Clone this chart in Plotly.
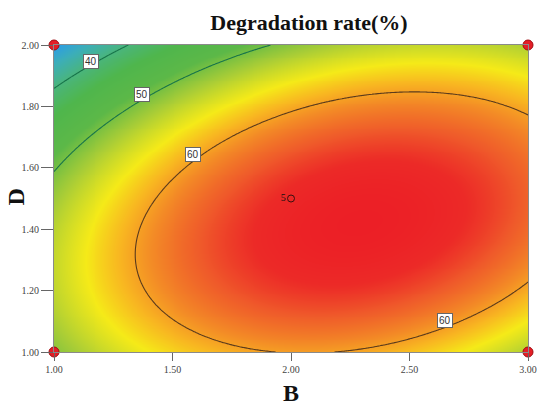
import numpy as np
import plotly.graph_objects as go

# Quadratic response-surface model in coded units:
#   u = B - 2 (B in 1..3),  v = (D - 1.5) / 0.5 (D in 1..2)
#   Y = b0 + b1*u + b2*v + b12*u*v + b11*u^2 + b22*v^2
coef_names = ["b0", "b1", "b2", "b12", "b11", "b22"]
coef_values = [65.92, 5.58, -4.58, 4.58, -8.42, -10.4]

b_range = [1.0, 3.0]
d_range = [1.0, 2.0]

contour_levels_green = [40, 50]
contour_levels_brown = [60]

# Factorial design points (corners) and centre point with replicate count
design_b = [1.0, 1.0, 3.0, 3.0]
design_d = [1.0, 2.0, 1.0, 2.0]
center_b = [2.0]
center_d = [1.5]
center_count = ["5"]

x_ticks = [1.0, 1.5, 2.0, 2.5, 3.0]
y_ticks = [1.0, 1.2, 1.4, 1.6, 1.8, 2.0]

# Contour label placements (B, D, text)
label_b = [1.154, 1.373, 1.587, 2.648]
label_d = [1.945, 1.840, 1.642, 1.104]
label_text = ["40", "50", "60", "60"]

# value -> colour anchors for the response colouring
color_values = [32.4, 36.0, 40.0, 44.0, 48.5, 52.5, 56.5, 59.0, 61.0, 63.5, 65.5, 67.1]
color_list = ["#2a9be8", "#3caeb8", "#4ab57a", "#4fb64c", "#5cb848", "#a9cd36",
              "#f5ea18", "#f8b521", "#f38a26", "#ef5a2a", "#ec2a27", "#ec1f26"]


def model(b, d):
    c = dict(zip(coef_names, coef_values))
    u = b - 2.0
    v = (d - 1.5) / 0.5
    return (c["b0"] + c["b1"] * u + c["b2"] * v + c["b12"] * u * v
            + c["b11"] * u ** 2 + c["b22"] * v ** 2)


bg = np.linspace(b_range[0], b_range[1], 241)
dg = np.linspace(d_range[0], d_range[1], 161)
BB, DD = np.meshgrid(bg, dg)
Z = model(BB, DD)
zmin, zmax = float(Z.min()), float(Z.max())

cs = []
for val, col in zip(color_values, color_list):
    t = (val - zmin) / (zmax - zmin)
    cs.append([min(max(t, 0.0), 1.0), col])
cs[0][0] = 0.0
cs[-1][0] = 1.0

fig = go.Figure()

fig.add_trace(go.Heatmap(
    x=bg, y=dg, z=Z, colorscale=cs, zmin=zmin, zmax=zmax,
    zsmooth="best", showscale=False, hoverinfo="skip"))

fig.add_trace(go.Contour(
    x=bg, y=dg, z=Z, showscale=False, hoverinfo="skip",
    contours=dict(coloring="none", start=min(contour_levels_green),
                  end=max(contour_levels_green), size=10),
    line=dict(color="#17744a", width=1.1)))

fig.add_trace(go.Contour(
    x=bg, y=dg, z=Z, showscale=False, hoverinfo="skip",
    contours=dict(coloring="none", start=contour_levels_brown[0],
                  end=contour_levels_brown[0], size=1),
    line=dict(color="#5b3b1c", width=1.1)))

fig.add_trace(go.Scatter(
    x=design_b, y=design_d, mode="markers", cliponaxis=False,
    marker=dict(symbol="circle", size=10, color="#e41e26",
                line=dict(color="#a00d12", width=1)),
    hoverinfo="skip", showlegend=False))

fig.add_trace(go.Scatter(
    x=center_b, y=center_d, mode="markers+text", text=center_count,
    textposition="middle left",
    textfont=dict(family="Liberation Serif", size=10, color="#111"),
    marker=dict(symbol="circle-open", size=7, color="#3a1010",
                line=dict(width=1)),
    hoverinfo="skip", showlegend=False))

annotations = []
for lb, ld, lt in zip(label_b, label_d, label_text):
    annotations.append(dict(
        x=lb, y=ld, xref="x", yref="y", text=lt, showarrow=False,
        font=dict(family="Liberation Sans", size=10, color="#333"),
        bgcolor="white", bordercolor="#666", borderwidth=1, borderpad=1))

annotations.append(dict(
    x=0.5, y=-0.1336, xref="paper", yref="paper", text="<b>B</b>",
    showarrow=False, xanchor="center", yanchor="middle",
    font=dict(family="Liberation Serif", size=24, color="#111")))
annotations.append(dict(
    x=-0.081, y=0.505, xref="paper", yref="paper", text="<b>D</b>",
    showarrow=False, xanchor="center", yanchor="middle", textangle=-90,
    font=dict(family="Liberation Serif", size=24, color="#111")))

axis_common = dict(showgrid=False, zeroline=False, showline=True,
                   linecolor="#8a8a8a", linewidth=1, mirror=True,
                   ticks="outside", tickcolor="#666", tickformat=".2f",
                   automargin=False,
                   tickfont=dict(family="Liberation Serif", size=10, color="#444"))

fig.update_layout(
    width=538, height=407, autosize=False,
    margin=dict(l=53.5, r=9.5, t=45, b=55, autoexpand=False),
    paper_bgcolor="white", plot_bgcolor="white",
    title=dict(text="<b>Degradation rate(%)</b>", x=309 / 538, xanchor="center",
               y=1 - 22 / 407, yanchor="middle",
               font=dict(family="Liberation Serif", size=22, color="#111")),
    xaxis=dict(range=b_range, tickvals=x_ticks, ticklen=8, **axis_common),
    yaxis=dict(range=d_range, tickvals=y_ticks, ticklen=12, **axis_common),
    annotations=annotations,
    showlegend=False,
)

fig.write_html("out.html")
